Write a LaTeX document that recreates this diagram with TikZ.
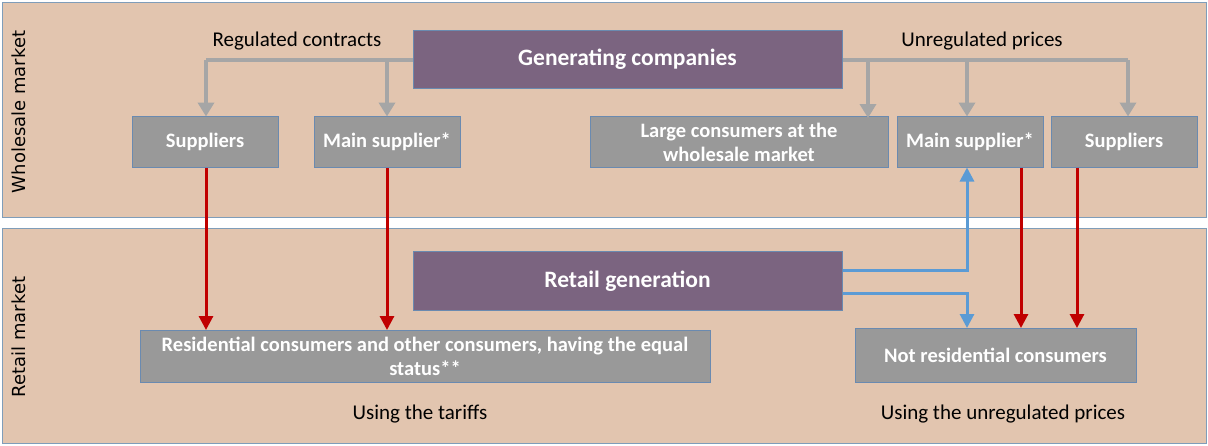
\documentclass[tikz,border=0pt]{standalone}
\usepackage{fontspec}
\setmainfont{Carlito}
\newfontfamily\sidefont{DejaVu Sans}
\usetikzlibrary{arrows.meta}
\definecolor{panelfill}{HTML}{E2C5AF}
\definecolor{panelline}{HTML}{7F9DB9}
\definecolor{boxgray}{HTML}{999999}
\definecolor{boxline}{HTML}{6A8AB0}
\definecolor{purplebox}{HTML}{7B6480}
\definecolor{arrgray}{HTML}{A6A6A6}
\definecolor{arrred}{HTML}{C00000}
\definecolor{arrblue}{HTML}{5B9BD5}
\begin{document}
\begin{tikzpicture}[x=1pt,y=-1pt,
  panel/.style={fill=panelfill,draw=panelline,line width=1pt},
  graybox/.style={fill=boxgray,draw=boxline,line width=1pt,text=white,font=\bfseries\fontsize{20.5}{24}\selectfont,align=center,inner sep=0pt},
  purplebox/.style={fill=purplebox,draw=boxline,line width=1pt,text=white,font=\bfseries\fontsize{23.5}{28}\selectfont,inner sep=0pt},
  lbl/.style={font=\fontsize{21}{25}\selectfont,text=black},
  side/.style={font=\sidefont\fontsize{18}{21}\selectfont,rotate=90},
  garr/.style={draw=arrgray,line width=4.5pt,-{Triangle[length=14pt,width=16pt]}},
  gline/.style={draw=arrgray,line width=4.5pt},
  rarr/.style={draw=arrred,line width=3pt,-{Triangle[length=14pt,width=14pt]}},
  barr/.style={draw=arrblue,line width=3pt,-{Triangle[length=14pt,width=14pt]}},
  bline/.style={draw=arrblue,line width=3pt}
]
\useasboundingbox (0,0) rectangle (1208,445);
\fill[white] (0,0) rectangle (1208,445);
% panels
\draw[panel] (2,2) rectangle (1206,217);
\draw[panel] (2,228) rectangle (1206,443);
\node[side] (wm) at (19,112) {Wholesale market};
\node[side] (rm) at (19,337) {Retail market};
% boxes
\node[purplebox,minimum width=429pt,minimum height=58pt] (gen) at (627.5,59) {Generating companies};
\node[graybox,minimum width=146pt,minimum height=51pt] (s1) at (205,142) {Suppliers};
\node[graybox,minimum width=146pt,minimum height=51pt] (m1) at (387,142) {Main supplier*};
\node[graybox,minimum width=298pt,minimum height=51pt] (lc) at (739,142) {Large consumers at the\\wholesale market};
\node[graybox,minimum width=146pt,minimum height=51pt] (m2) at (970,142) {Main supplier*};
\node[graybox,minimum width=146pt,minimum height=51pt] (s2) at (1124,142) {Suppliers};
\node[purplebox,minimum width=429pt,minimum height=59pt] (rg) at (627.5,281) {Retail generation};
\node[graybox,minimum width=570pt,minimum height=52pt] (res) at (425,356) {Residential consumers and other consumers, having the equal\\status**};
\node[graybox,minimum width=281pt,minimum height=54pt] (nr) at (995.5,355) {Not residential consumers};
% labels
\node[lbl] (rc) at (297,41) {Regulated contracts};
\node[lbl] (up) at (982,41) {Unregulated prices};
\node[lbl] (ut) at (420,414) {Using the tariffs};
\node[lbl] (uu) at (1003,414) {Using the unregulated prices};
% gray connectors
\coordinate (gl) at (gen.west |- 0,60);
\coordinate (gr) at (gen.east |- 0,60);
\draw[gline] (gl) -- (206,60);
\draw[garr] (206,60) -- (206,116.5);
\draw[garr] (387,60) -- (387,116.5);
\draw[gline] (gr) -- (1128,60);
\draw[garr] (868,60) -- (868,118);
\draw[garr] (967,60) -- (967,116.5);
\draw[garr] (1128,60) -- (1128,116.5);
% red
\draw[rarr] (s1.south -| 206,0) -- (206,330);
\draw[rarr] (m1.south -| 387,0) -- (387,330);
\draw[rarr] (1021,167.5) -- (1021,328);
\draw[rarr] (1077,167.5) -- (1077,328);
% blue
\draw[barr] (rg.east |- 0,270) -- (967,270) -- (967,167.5);
\draw[barr] (rg.east |- 0,293) -- (967,293) -- (967,328);
\end{tikzpicture}
\end{document}
